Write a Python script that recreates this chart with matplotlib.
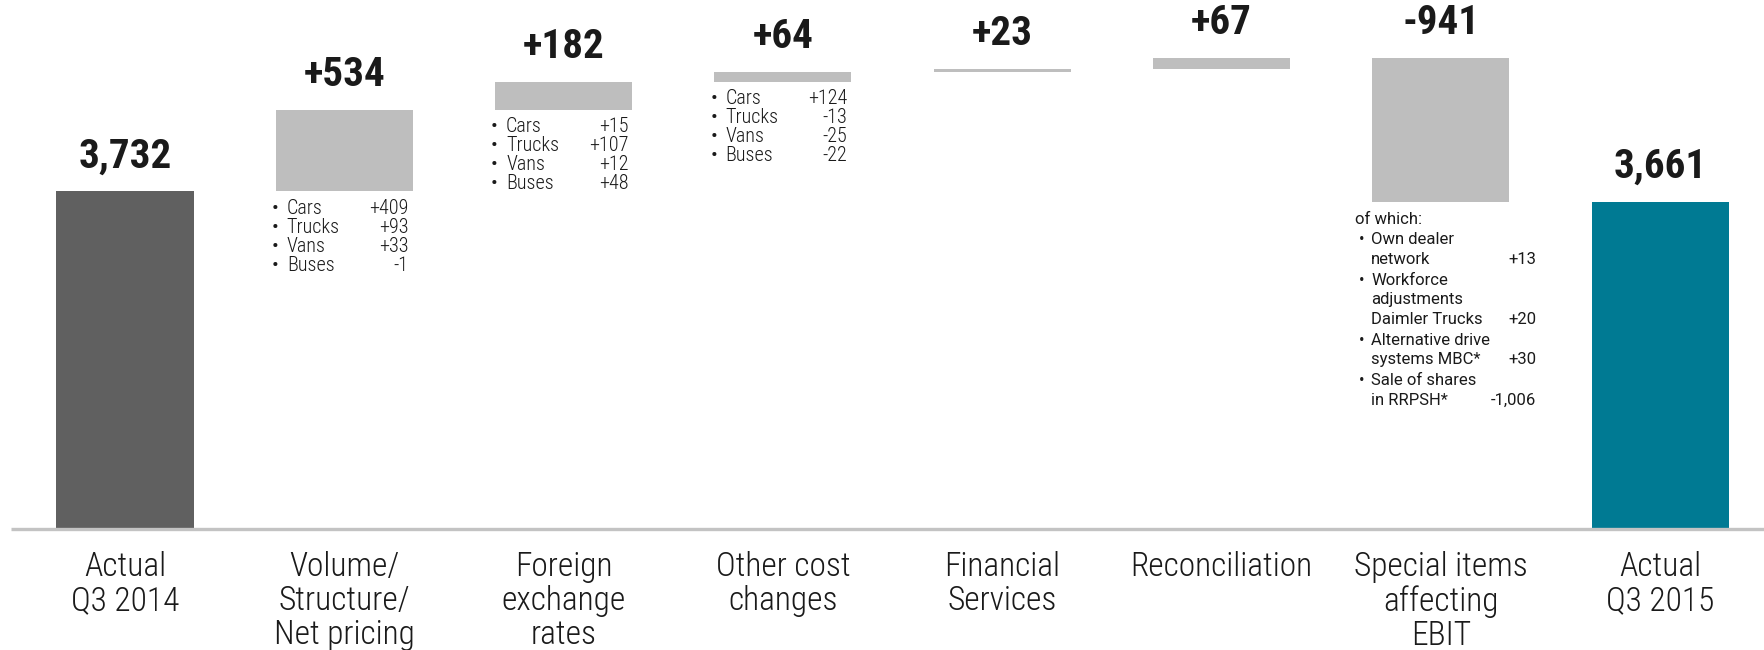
import matplotlib
matplotlib.use("Agg")
import matplotlib.pyplot as plt

# waterfall data (EUR m)
categories = [
    "Actual\nQ3 2014",
    "Volume/\nStructure/\nNet pricing",
    "Foreign\nexchange\nrates",
    "Other cost\nchanges",
    "Financial\nServices",
    "Reconciliation",
    "Special items\naffecting\nEBIT",
    "Actual\nQ3 2015",
]
start_value = 3732
deltas = [534, 182, 64, 23, 67, -941]
end_value = 3661
value_labels = ["3,732", "+534", "+182", "+64", "+23", "+67", "-941", "3,661"]

# breakdown lists under the bars
volume_items = ["Cars", "Trucks", "Vans", "Buses"]
volume_values = ["+409", "+93", "+33", "-1"]
fx_items = ["Cars", "Trucks", "Vans", "Buses"]
fx_values = ["+15", "+107", "+12", "+48"]
cost_items = ["Cars", "Trucks", "Vans", "Buses"]
cost_values = ["+124", "-13", "-25", "-22"]
special_items = [
    ["Own dealer", "network"],
    ["Workforce", "adjustments", "Daimler Trucks"],
    ["Alternative drive", "systems MBC*"],
    ["Sale of shares", "in RRPSH*"],
]
special_values = ["+13", "+20", "+30", "-1,006"]

C_START = "#606060"
C_DELTA = "#bebebe"
C_END = "#007a93"
C_TEXT = "#1a1a1a"
C_AXIS = "#c3c3c3"

NARROW = ["Roboto Condensed", "Liberation Sans", "DejaVu Sans"]
REGULAR = ["Roboto", "Liberation Sans", "DejaVu Sans"]

DPI = 100
W, H = 1765, 650


def pt(px):
    return px * 72.0 / DPI


fig = plt.figure(figsize=(W / DPI, H / DPI), dpi=DPI)
base_px = 121
ax = fig.add_axes([0, base_px / H, 1, (H - base_px) / H])
ymin = 1520
ax.set_ylim(ymin, ymin + (H - base_px) * 6.55)
ax.set_xlim(-0.570, 7.478)
ax.axis("off")

bar_w = 0.625
n = len(categories)

# bar extents
bottoms, tops, colors = [0], [start_value], [C_START]
level = start_value
for d in deltas:
    lo, hi = sorted([level, level + d])
    bottoms.append(lo)
    tops.append(hi)
    colors.append(C_DELTA)
    level += d
bottoms.append(0)
tops.append(end_value)
colors.append(C_END)

for i in range(n):
    ax.bar(i, tops[i] - bottoms[i], bottom=bottoms[i], width=bar_w,
           color=colors[i], linewidth=0)
    ax.annotate(value_labels[i], xy=(i, tops[i]), xytext=(0, pt(24)),
                textcoords="offset points", ha="center", va="baseline",
                fontsize=29.5, fontweight="bold", color=C_TEXT, family=NARROW)
    ax.annotate(categories[i], xy=(i, ymin), xytext=(0, -pt(22)),
                textcoords="offset points", ha="center", va="top",
                fontsize=24, fontweight="light", color=C_TEXT, family=NARROW,
                linespacing=1.08, annotation_clip=False)

# baseline
ax.plot([-0.52, 7.48], [ymin, ymin], color=C_AXIS, lw=2.4,
        clip_on=False, solid_capstyle="butt")


def bullet_list(idx, names, values):
    x_l = idx - bar_w / 2
    x_r = idx + bar_w / 2
    y = bottoms[idx]
    for k, (nm, v) in enumerate(zip(names, values)):
        dy = -pt(17 + 19 * k)
        ax.annotate("\u2022", xy=(x_l, y), xytext=(-pt(4), dy),
                    textcoords="offset points", ha="left", va="center",
                    fontsize=14.5, color=C_TEXT, family=NARROW)
        ax.annotate(nm, xy=(x_l, y), xytext=(pt(11), dy),
                    textcoords="offset points", ha="left", va="center",
                    fontsize=14.5, fontweight="light", color=C_TEXT, family=NARROW)
        ax.annotate(v, xy=(x_r, y), xytext=(-pt(4), dy),
                    textcoords="offset points", ha="right", va="center",
                    fontsize=14.5, fontweight="light", color=C_TEXT, family=NARROW)


bullet_list(1, volume_items, volume_values)
bullet_list(2, fx_items, fx_values)
bullet_list(3, cost_items, cost_values)

# special items breakdown
idx = 6
x_l = idx - bar_w / 2
x_r = idx + bar_w / 2
y0 = bottoms[idx]
fs = 12
ax.annotate("of which:", xy=(x_l, y0), xytext=(-pt(17), -pt(17)),
            textcoords="offset points", ha="left", va="center",
            fontsize=fs, color=C_TEXT, family=REGULAR)
off = 17 + 20.5
for lines, v in zip(special_items, special_values):
    ax.annotate("\u2022", xy=(x_l, y0), xytext=(-pt(13), -pt(off)),
                textcoords="offset points", ha="left", va="center",
                fontsize=fs, color=C_TEXT, family=REGULAR)
    for j, ln in enumerate(lines):
        ax.annotate(ln, xy=(x_l, y0), xytext=(-pt(1), -pt(off + 19.5 * j)),
                    textcoords="offset points", ha="left", va="center",
                    fontsize=fs, color=C_TEXT, family=REGULAR)
    ax.annotate(v, xy=(x_r, y0), xytext=(pt(27), -pt(off + 19.5 * (len(lines) - 1))),
                textcoords="offset points", ha="right", va="center",
                fontsize=fs, color=C_TEXT, family=REGULAR)
    off += 19.5 * len(lines) + 1.5

fig.savefig("out.png", dpi=DPI)
